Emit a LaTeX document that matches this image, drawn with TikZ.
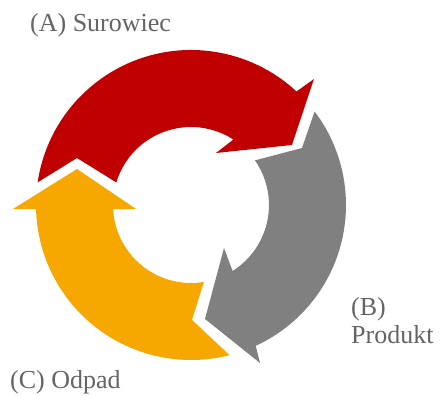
\documentclass[tikz,border=0pt]{standalone}
\usepackage{fontspec}
\setmainfont{Liberation Serif}
\usepackage{tikz}
\usetikzlibrary{positioning}
\definecolor{cycred}{RGB}{192,0,0}
\definecolor{cycgray}{RGB}{128,128,128}
\definecolor{cycorange}{RGB}{246,168,0}
\definecolor{lblgray}{RGB}{100,100,100}

\begin{document}
\begin{tikzpicture}[
  x=1pt,y=1pt,
  seg/.style={draw=none},
  lbl/.style={font=\fontsize{26}{28}\selectfont,text=lblgray,inner sep=0pt,align=left},
]
  \useasboundingbox (-191,-191) rectangle (249,205);

  % top arrow (red)
  \fill[seg,cycred] (171.6:155) arc[start angle=171.6,end angle=47.1,radius=155]
    -- (123,126) -- (101,60) -- (25,52)
    -- (57.1:78) arc[start angle=57.1,end angle=163.2,radius=78]
    -- (-114,47) -- cycle;

  % right arrow (gray)
  \fill[seg,cycgray] (37.1:155) arc[start angle=37.1,end angle=-65.3,radius=155]
    -- (69,-158) -- (14,-114) -- (33,-43)
    -- (-57.8:78) arc[start angle=-57.8,end angle=34.9,radius=78]
    -- (111,57) -- cycle;

  % left arrow (orange)
  \fill[seg,cycorange] (-75.6:155) arc[start angle=-75.6,end angle=-178.5,radius=155]
    -- (-178,-4) -- (-114,36) -- (-55,-4)
    -- (-177:78) arc[start angle=-177,end angle=-80.5,radius=78]
    -- (1,-115) -- cycle;

  % labels
  \node[lbl,anchor=base west] (surowiec) at (-161,173) {(A) Surowiec};
  \node[lbl,anchor=north west] (produkt) at (160,-92) {(B)\\Produkt};
  \node[lbl,anchor=base west] (odpad) at (-181,-184) {(C) Odpad};
\end{tikzpicture}
\end{document}
